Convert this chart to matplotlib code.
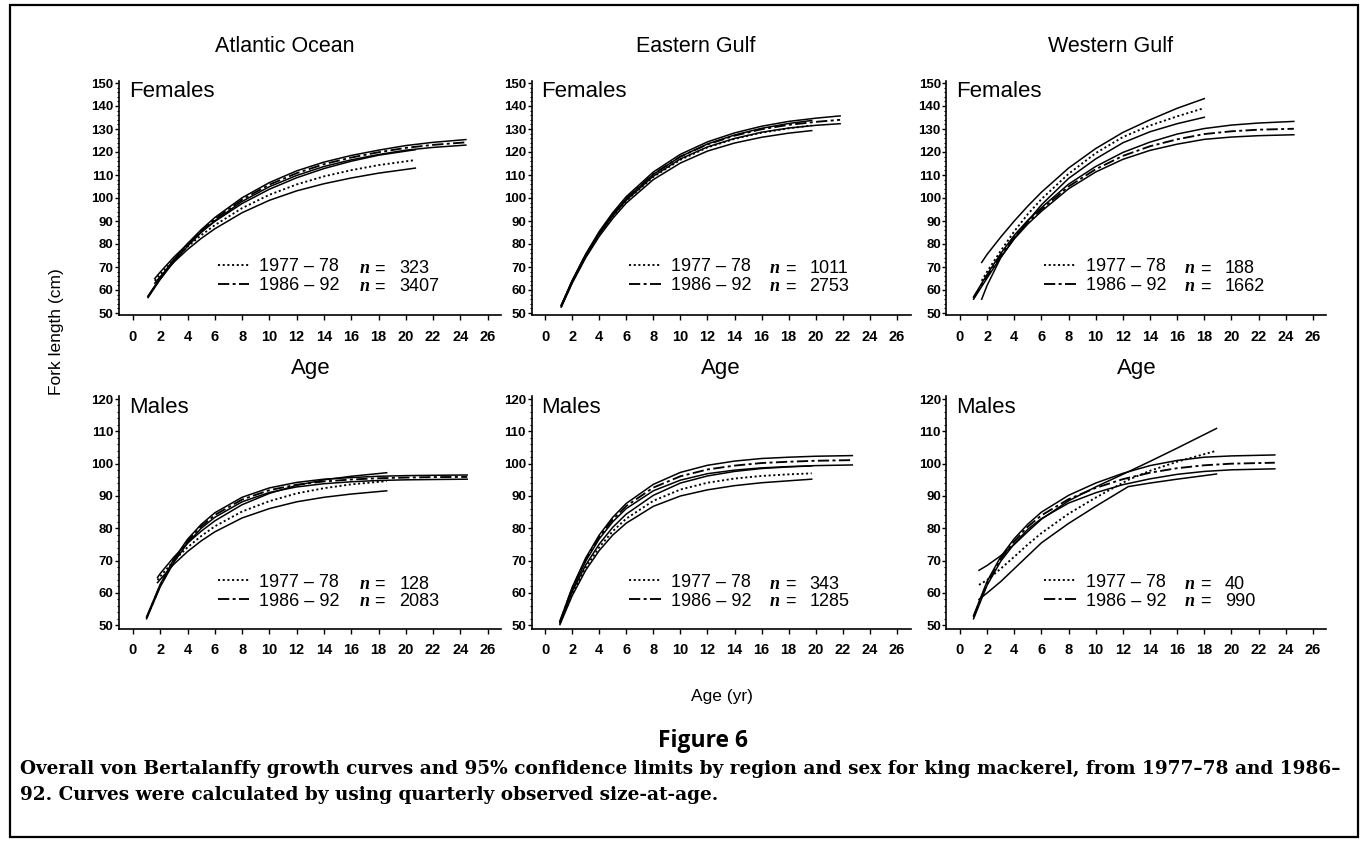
import matplotlib
matplotlib.use('Agg')
import matplotlib.pyplot as plt
from matplotlib.patches import Rectangle
from matplotlib.ticker import MultipleLocator

# ---------------- data ----------------
regions = ["Atlantic Ocean", "Eastern Gulf", "Western Gulf"]
sexes = ["Females", "Males"]
period_labels = ["1977 \u2013 78", "1986 \u2013 92"]
x_ticks = list(range(0, 27, 2))

# Atlantic, females
af_age78 = [1.6, 2, 3, 4, 5, 6, 8, 10, 12, 14, 16, 18, 20.7]
af_mean78 = [64, 66.8, 73.2, 78.8, 83.8, 88.2, 95.6, 101.4, 105.9, 109.4, 112.1, 114.3, 116.5]
af_hi78 = [65, 67.8, 74.3, 80, 85.2, 89.8, 97.6, 103.8, 108.8, 112.8, 116, 118.6, 121]
af_lo78 = [63, 65.8, 72.1, 77.6, 82.4, 86.6, 93.6, 99, 103.1, 106.2, 108.7, 110.8, 113]
af_age86 = [1.1, 2, 3, 4, 5, 6, 8, 10, 12, 14, 16, 18, 20, 22, 24.4]
af_mean86 = [57, 65, 72.8, 79.6, 85.6, 90.8, 99.3, 105.8, 110.8, 114.7, 117.6, 119.9, 121.8, 123.1, 124.2]
af_hi86 = [57.3, 65.4, 73.3, 80.2, 86.2, 91.5, 100.1, 106.7, 111.8, 115.6, 118.5, 120.8, 122.8, 124.2, 125.4]
af_lo86 = [56.7, 64.6, 72.3, 79, 85, 90.1, 98.5, 104.9, 109.8, 113.7, 116.6, 118.9, 120.8, 122, 123]
af_n = ["323", "3407"]

# Eastern Gulf, females
ef_age78 = [1.2, 2, 3, 4, 5, 6, 8, 10, 12, 14, 16, 18, 19.7]
ef_mean78 = [53, 63.4, 74.6, 84.1, 92, 98.8, 109.2, 116.6, 122, 125.7, 128.4, 130.3, 131.5]
ef_hi78 = [53.4, 63.9, 75.2, 84.8, 92.8, 99.7, 110.3, 118, 123.5, 127.4, 130.3, 132.4, 133.7]
ef_lo78 = [52.6, 62.9, 74, 83.3, 91.1, 97.8, 108, 115.2, 120.4, 123.9, 126.4, 128.2, 129.3]
ef_age86 = [1.2, 2, 3, 4, 5, 6, 8, 10, 12, 14, 16, 18, 20, 21.8]
ef_mean86 = [53, 63.7, 75.1, 84.8, 92.9, 99.8, 110.4, 118, 123.3, 127.1, 129.9, 131.8, 133.1, 134]
ef_hi86 = [53.3, 64.1, 75.6, 85.4, 93.6, 100.6, 111.3, 119, 124.4, 128.3, 131.2, 133.3, 134.7, 135.7]
ef_lo86 = [52.7, 63.3, 74.6, 84.2, 92.2, 99, 109.5, 117, 122.2, 125.9, 128.6, 130.4, 131.6, 132.3]
ef_n = ["1011", "2753"]

# Western Gulf, females
wf_age78 = [1.6, 2, 3, 4, 5, 6, 8, 10, 12, 14, 16, 18]
wf_mean78 = [64, 68, 77, 85.5, 93, 99.5, 110.5, 119.5, 126.5, 131.5, 135.5, 139.1]
wf_hi78 = [72, 75.5, 83, 90, 96.5, 102.5, 113, 121.5, 128.5, 134, 139, 143.2]
wf_lo78 = [56, 62, 74, 82.5, 90, 97, 108.5, 117, 124, 128.8, 132.3, 135.1]
wf_age86 = [1.0, 2, 3, 4, 5, 6, 8, 10, 12, 14, 16, 18, 20, 22, 24.6]
wf_mean86 = [56.5, 66, 75, 83, 89.5, 95, 105, 112.5, 118.3, 122.5, 125.5, 127.8, 129, 129.7, 130.1]
wf_hi86 = [57, 66.8, 75.8, 83.8, 90.3, 95.8, 106, 113.7, 119.8, 124.3, 127.8, 130.2, 131.7, 132.6, 133.3]
wf_lo86 = [56, 65.2, 74.2, 82.2, 88.7, 94.2, 104, 111.3, 116.8, 120.7, 123.4, 125.5, 126.5, 127.1, 127.5]
wf_n = ["188", "1662"]

# Atlantic, males
am_age78 = [1.8, 2, 3, 4, 5, 6, 8, 10, 12, 14, 16, 18.6]
am_mean78 = [64, 65.1, 70, 74.1, 77.6, 80.6, 85.2, 88.4, 90.8, 92.4, 93.6, 94.6]
am_hi78 = [64.8, 66, 71.1, 75.4, 79.1, 82.3, 87.3, 90.8, 93.3, 95, 96.1, 97.2]
am_lo78 = [63.2, 64.2, 68.9, 72.8, 76.1, 78.9, 83.2, 86.1, 88.2, 89.6, 90.6, 91.6]
am_age86 = [1.0, 2, 3, 4, 5, 6, 8, 10, 12, 14, 16, 18, 20, 22, 24.5]
am_mean86 = [52.3, 62.3, 70, 76, 80.6, 84.1, 88.9, 91.8, 93.5, 94.5, 95.1, 95.5, 95.7, 95.85, 95.9]
am_hi86 = [52.6, 62.7, 70.5, 76.6, 81.2, 84.8, 89.6, 92.5, 94.2, 95.2, 95.7, 96.1, 96.3, 96.4, 96.5]
am_lo86 = [52, 61.9, 69.5, 75.4, 80, 83.4, 88.2, 91.1, 92.8, 93.8, 94.4, 94.8, 95, 95.1, 95.2]
am_n = ["128", "2083"]

# Eastern Gulf, males
em_age78 = [1.1, 2, 3, 4, 5, 6, 8, 10, 12, 14, 16, 18, 19.7]
em_mean78 = [50.6, 59.7, 67.8, 74.1, 79.1, 83, 88.5, 92, 94.1, 95.4, 96.2, 96.7, 97]
em_hi78 = [51, 60.3, 68.6, 75.1, 80.3, 84.4, 90.2, 94, 96.2, 97.6, 98.5, 99, 99.3]
em_lo78 = [50.2, 59.1, 67, 73.1, 77.9, 81.6, 86.8, 90, 91.9, 93.2, 94.1, 94.7, 95.2]
em_age86 = [1.1, 2, 3, 4, 5, 6, 8, 10, 12, 14, 16, 18, 20, 22.7]
em_mean86 = [51, 61.3, 70.3, 77.3, 82.7, 86.9, 92.6, 96.1, 98.2, 99.4, 100.2, 100.6, 100.9, 101.1]
em_hi86 = [51.3, 61.7, 70.8, 77.9, 83.4, 87.7, 93.6, 97.3, 99.5, 100.8, 101.6, 102, 102.3, 102.5]
em_lo86 = [50.7, 60.9, 69.8, 76.7, 82, 86.1, 91.6, 94.9, 96.9, 98, 98.7, 99.1, 99.4, 99.6]
em_n = ["343", "1285"]

# Western Gulf, males
wm_age78 = [1.4, 2, 3, 4, 5, 6, 8, 10, 12.4, 14, 16, 18.9]
wm_mean78 = [62.5, 64, 67.5, 71.2, 75, 78.5, 84.5, 89.5, 95, 97.8, 100.6, 104]
wm_hi78 = [67, 68.5, 71.5, 75, 79, 82.8, 88.5, 92.8, 97.5, 100.7, 104.8, 110.9]
wm_lo78 = [58, 60, 63.5, 67.5, 71.5, 75.5, 81.5, 86.8, 92.9, 94, 95.2, 96.8]
wm_age86 = [1.0, 2, 3, 4, 5, 6, 8, 10, 12, 14, 16, 18, 20, 23.2]
wm_mean86 = [52.5, 63, 70.5, 76, 80.5, 84, 89, 92.5, 95.2, 97.2, 98.6, 99.5, 100, 100.3]
wm_hi86 = [53, 63.6, 71.2, 76.8, 81.3, 85, 90.2, 94, 97, 99.4, 101, 102, 102.4, 102.7]
wm_lo86 = [52, 62.4, 69.8, 75.2, 79.7, 83, 87.8, 91, 93.5, 95.3, 96.7, 97.6, 98.1, 98.4]
wm_n = ["40", "990"]

caption_title = "Figure 6"
caption_text = ("Overall von Bertalanffy growth curves and 95% confidence limits by region and sex for king mackerel, from 1977\u201378 and 1986\u2013\n"
                "92. Curves were calculated by using quarterly observed size-at-age.")

# ---------------- layout ----------------
W, H = 1363, 841
fig = plt.figure(figsize=(W / 100, H / 100), dpi=100)
plt.rcParams['font.family'] = ['Liberation Sans', 'DejaVu Sans']

def fbox(left, top, width, height):
    return [left / W, 1 - (top + height) / H, width / W, height / H]

col_left = [119.3, 531.5, 946.4]
col_width = [382, 379, 380]
row_top = [80.7, 395.8]
row_height = [234.6, 232.7]
row_ylim = [(49, 151), (49, 121)]
row_yticks = [list(range(50, 151, 10)), list(range(50, 121, 10))]

panels = [
    [(af_age78, af_mean78, af_hi78, af_lo78, af_age86, af_mean86, af_hi86, af_lo86, af_n),
     (ef_age78, ef_mean78, ef_hi78, ef_lo78, ef_age86, ef_mean86, ef_hi86, ef_lo86, ef_n),
     (wf_age78, wf_mean78, wf_hi78, wf_lo78, wf_age86, wf_mean86, wf_hi86, wf_lo86, wf_n)],
    [(am_age78, am_mean78, am_hi78, am_lo78, am_age86, am_mean86, am_hi86, am_lo86, am_n),
     (em_age78, em_mean78, em_hi78, em_lo78, em_age86, em_mean86, em_hi86, em_lo86, em_n),
     (wm_age78, wm_mean78, wm_hi78, wm_lo78, wm_age86, wm_mean86, wm_hi86, wm_lo86, wm_n)],
]

dot_style = (0, (1.1, 1.4))
dashdot_style = (0, (6, 1.8, 1.6, 1.8))
lw_mean = 1.35
lw_ci = 1.1
tick_family = ['Liberation Sans Narrow', 'Liberation Sans']

for r in range(2):
    for c in range(3):
        (a78, m78, h78, l78, a86, m86, h86, l86, nvals) = panels[r][c]
        ax = fig.add_axes(fbox(col_left[c], row_top[r], col_width[c], row_height[r]))
        ax.set_xlim(-1, 27)
        ax.set_ylim(*row_ylim[r])
        for s in ['top', 'right']:
            ax.spines[s].set_visible(False)
        for s in ['left', 'bottom']:
            ax.spines[s].set_linewidth(1.2)
        ax.set_xticks(x_ticks)
        ax.set_yticks(row_yticks[r])
        ax.yaxis.set_minor_locator(MultipleLocator(2))
        ax.tick_params(axis='x', direction='out', length=3.5, width=1.0, pad=7)
        ax.tick_params(axis='y', direction='out', length=3, width=1.0, pad=1)
        ax.tick_params(axis='y', which='minor', direction='out', length=1.5, width=0.8)
        for lab in ax.get_xticklabels():
            lab.set_fontsize(10.5)
            lab.set_fontfamily(tick_family)
            lab.set_fontweight('bold')
        for lab in ax.get_yticklabels():
            lab.set_fontsize(9.5)
            lab.set_fontfamily(tick_family)
            lab.set_fontweight('bold')

        # confidence limits (solid) and mean curves
        ax.plot(a78, h78, color='black', lw=lw_ci, ls='-')
        ax.plot(a78, l78, color='black', lw=lw_ci, ls='-')
        ln78, = ax.plot(a78, m78, color='black', lw=lw_mean, ls=dot_style)
        ax.plot(a86, h86, color='black', lw=lw_ci, ls='-')
        ax.plot(a86, l86, color='black', lw=lw_ci, ls='-')
        ln86, = ax.plot(a86, m86, color='black', lw=lw_mean, ls=dashdot_style)

        # sex label (x in data units, y in axes fraction)
        ax.text(-0.3, 0.952 if r == 0 else 0.948, sexes[r],
                transform=ax.get_xaxis_transform(),
                fontsize=16, va='center', ha='left')

        # legend
        rows_y = (0.198, 0.121) if r == 0 else (0.19, 0.115)
        ax.legend([ln78, ln86], period_labels, loc='upper left',
                  bbox_to_anchor=(0.258, rows_y[0] + 0.046), frameon=False,
                  fontsize=13, handlelength=1.75, handletextpad=0.55,
                  borderpad=0, borderaxespad=0, labelspacing=0.12)
        for k in range(2):
            ax.text(0.628, rows_y[k], 'n', transform=ax.transAxes, fontsize=13,
                    family=['Liberation Serif'], style='italic', weight='bold',
                    va='center', ha='left')
            ax.text(0.668, rows_y[k], '=', transform=ax.transAxes, fontsize=13,
                    va='center', ha='left')
            ax.text(0.733, rows_y[k], nvals[k], transform=ax.transAxes, fontsize=13,
                    va='center', ha='left')

        if r == 0:
            ax.text(11.1, 1.144, regions[c], transform=ax.get_xaxis_transform(),
                    fontsize=15.5, ha='center', va='center')
            ax.set_xlabel('Age', fontsize=16, labelpad=10)

# shared labels
fig.text(57 / W, 1 - 332 / H, 'Fork length (cm)', rotation=90, fontsize=12.5,
         ha='center', va='center')
fig.text(722 / W, 1 - 697 / H, 'Age (yr)', fontsize=12.5, ha='center', va='center')
fig.text(703 / W, 1 - 741 / H, caption_title, fontsize=16.5, weight='bold',
         family=['Open Sans', 'Liberation Sans'], ha='center', va='center')
cap = fig.text(20 / W, 1 - 760 / H, caption_text, fontsize=12.5, weight='bold',
               family=['DejaVu Serif'], ha='left', va='top', linespacing=1.55)

# fit caption width to the reference
fig.canvas.draw()
bb = cap.get_window_extent()
cap.set_fontsize(12.5 * 1322 / bb.width)

# figure border
fig.add_artist(Rectangle((10 / W, 1 - 837 / H), 1348 / W, 832 / H,
                         transform=fig.transFigure, fill=False, lw=1.6, color='black'))

fig.savefig('out.png', dpi=100)
